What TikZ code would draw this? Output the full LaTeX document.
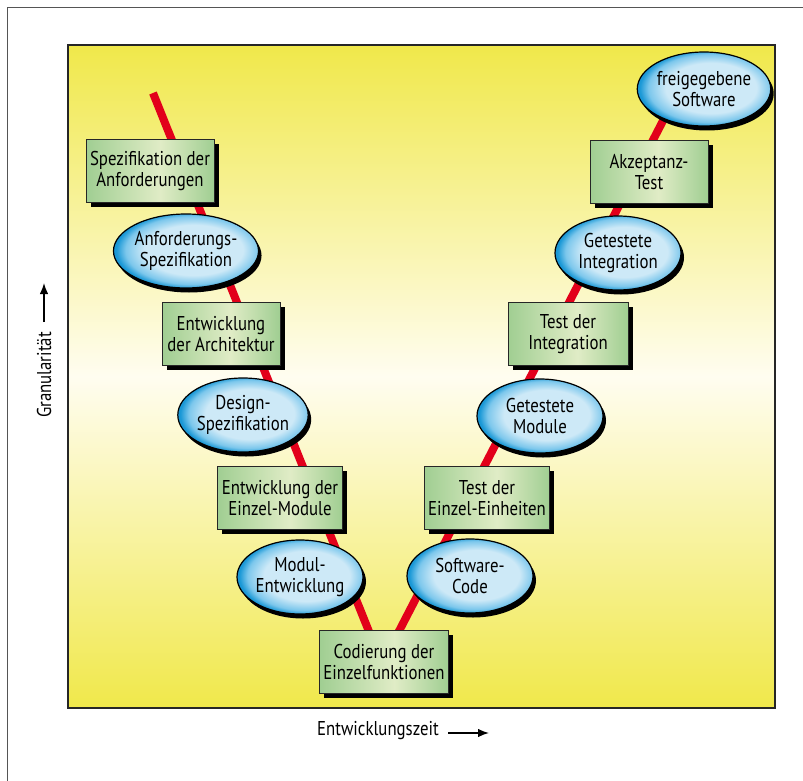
\documentclass[tikz,border=0pt]{standalone}
\usepackage{fontspec}
\setmainfont{PT Sans}[FakeStretch=0.84]
\usetikzlibrary{shapes.geometric,shadows,arrows.meta}

\definecolor{ylw}{HTML}{F0E84A}
\definecolor{cream}{HTML}{FFFDF0}
\definecolor{gdark}{HTML}{A0CE92}
\definecolor{glight}{HTML}{E0ECC6}
\definecolor{bdark}{HTML}{1A98D6}
\definecolor{bmid}{HTML}{7CC7EC}
\definecolor{blight}{HTML}{CDE9F7}
\definecolor{vred}{HTML}{E2001A}
\definecolor{framegray}{HTML}{555555}

\pgfdeclareverticalshading{panelshade}{100bp}{color(0bp)=(ylw); color(25bp)=(ylw); color(50bp)=(cream); color(75bp)=(ylw); color(100bp)=(ylw)}
\pgfdeclarehorizontalshading{boxshade}{100bp}{color(0bp)=(gdark); color(25bp)=(gdark); color(54bp)=(glight); color(75bp)=(gdark); color(100bp)=(gdark)}
\pgfdeclareradialshading{ellshade}{\pgfpoint{4bp}{1bp}}{color(0bp)=(blight); color(17bp)=(blight); color(23bp)=(bmid); color(26bp)=(bdark); color(50bp)=(bdark)}

\tikzset{
  lbl/.style={font=\fontsize{20}{21.5}\selectfont, text=black},
  stepbox/.style={rectangle, lbl, align=center, draw=black!85, line width=0.8pt,
    shading=boxshade, minimum width=118pt, minimum height=63pt, inner xsep=4pt,
    drop shadow={shadow xshift=4.5pt, shadow yshift=-4.5pt, fill=black, opacity=1}},
  resultell/.style={ellipse, lbl, align=center, draw=black, line width=1.2pt,
    shading=ellshade, minimum width=126pt, minimum height=74pt, inner sep=0pt,
    drop shadow={shadow xshift=3pt, shadow yshift=-4.5pt, fill=black, opacity=1}},
  vline/.style={draw=vred, line width=8pt, line cap=butt, line join=miter},
  axisarrow/.style={-{Latex[length=11pt,width=8.5pt]}, line width=1.4pt, black}
}

\begin{document}
\begin{tikzpicture}[x=1pt,y=-1pt]
\useasboundingbox (0,0) rectangle (803,781);
% outer frame
\draw[framegray, line width=1pt] (810,8) -- (7,8) -- (7,790);
% panel
\shade[shading=panelshade] (68,45) rectangle (775,708);
\draw[black!85, line width=1.6pt] (68,45) rectangle (775,708);

% V line
\coordinate (vtop) at (153,93);
\coordinate (vbot) at (382,664);
\coordinate (vend) at (682,84);
\draw[vline] (vtop) -- (vbot) -- (vend);

% left arm
\node[stepbox, minimum width=128pt] (b1) at (150,171) {Spezifikation der\\Anforderungen};
\node[resultell] (e1) at (186,251) {Anforderungs-\\Spezifikation};
\node[stepbox] (b2) at (221,334) {Entwicklung\\der Architektur};
\node[resultell] (e2) at (243,415) {Design-\\Spezifikation};
\node[stepbox, minimum width=125pt] (b3) at (280,498) {Entwicklung der\\Einzel-Module};
\node[resultell] (e3) at (300,577) {Modul-\\Entwicklung};
% bottom
\node[stepbox, minimum width=128pt] (b4) at (384,662) {Codierung der\\Einzelfunktionen};
% right arm
\node[resultell] (e4) at (470,576) {Software-\\Code};
\node[stepbox, minimum width=125pt] (b5) at (487,498) {Test der\\Einzel-Einheiten};
\node[resultell] (e5) at (540,416) {Getestete\\Module};
\node[stepbox, minimum width=120pt] (b6) at (568,334) {Test der\\Integration};
\node[resultell] (e6) at (618,253) {Getestete\\Integration};
\node[stepbox] (b7) at (649,172) {Akzeptanz-\\Test};
\node[resultell] (e7) at (704,89) {freigegebene\\Software};

% axis labels
\node[lbl, rotate=90] (gran) at (44,375) {Granularität};
\coordinate (granA) at (44,322);
\coordinate (granB) at (44,283);
\draw[axisarrow] (granA) -- (granB);
\node[lbl] (zeit) at (378,731) {Entwicklungszeit};
\coordinate (zeitA) at (448,733);
\coordinate (zeitB) at (489,733);
\draw[axisarrow] (zeitA) -- (zeitB);
\end{tikzpicture}
\end{document}
